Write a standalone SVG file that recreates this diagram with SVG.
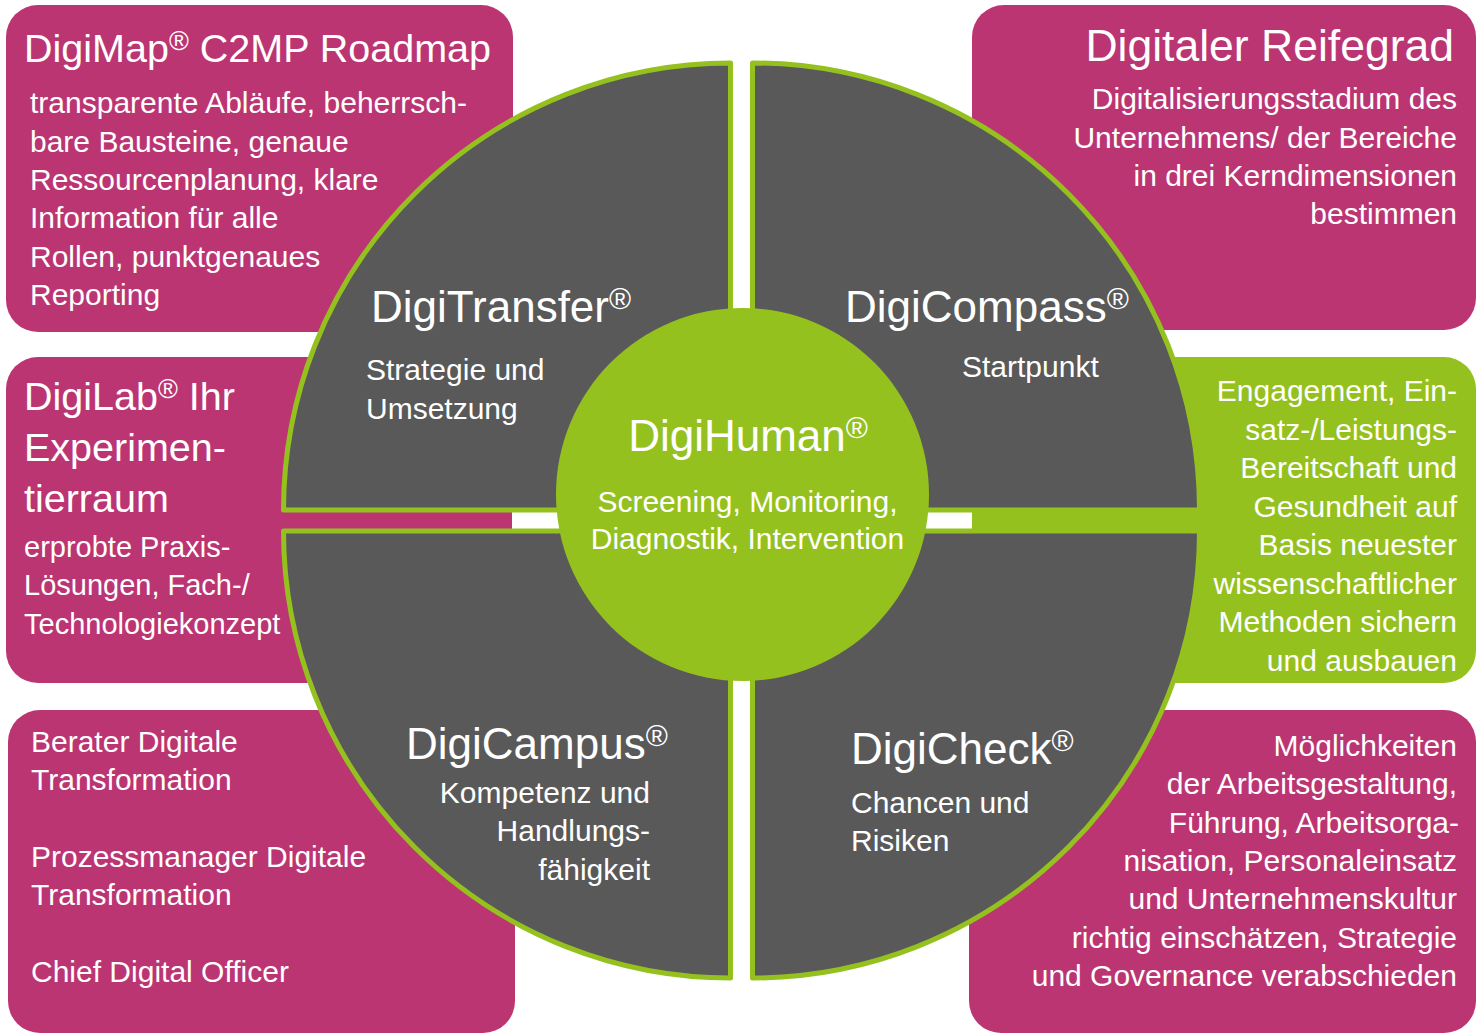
<svg xmlns="http://www.w3.org/2000/svg" width="1476" height="1035" viewBox="0 0 1476 1035">
<style>
text { font-family: "Liberation Sans", Arial, sans-serif; fill: #ffffff; }
.box { fill: #BB3572; }
.gbox { fill: #95C11F; }
.quad { fill: #595959; stroke: #95C11F; stroke-width: 5; stroke-linejoin: round; }
.hub { fill: #95C11F; }
.t44 { font-size: 44px; }
.t40 { font-size: 39.5px; }
.b30 { font-size: 30px; }
.b29 { font-size: 29px; }
.r { text-anchor: end; }
.m { text-anchor: middle; }
.reg { font-size: 30px; }
.regs { font-size: 27px; }
</style>
<rect x="0" y="0" width="1476" height="1035" fill="#ffffff"/>

<g id="box-digimap">
  <rect class="box" x="6" y="5" width="507" height="327" rx="32"/>
  <text class="t40" x="24" y="62">DigiMap<tspan class="regs" baseline-shift="12">®</tspan> C2MP Roadmap</text>
  <text class="b30" x="30" y="113">transparente Abläufe, beherrsch-</text>
  <text class="b30" x="30" y="151.5">bare Bausteine, genaue</text>
  <text class="b30" x="30" y="190">Ressourcenplanung, klare</text>
  <text class="b30" x="30" y="228">Information für alle</text>
  <text class="b30" x="30" y="266.5">Rollen, punktgenaues</text>
  <text class="b30" x="30" y="305">Reporting</text>
</g>

<g id="box-reifegrad">
  <rect class="box" x="972" y="5" width="504" height="325" rx="32"/>
  <text class="r" font-size="44.5" x="1454" y="61">Digitaler Reifegrad</text>
  <text class="b30 r" x="1457" y="109">Digitalisierungsstadium des</text>
  <text class="b30 r" x="1457" y="148">Unternehmens/ der Bereiche</text>
  <text class="b30 r" x="1457" y="186">in drei Kerndimensionen</text>
  <text class="b30 r" x="1457" y="224">bestimmen</text>
</g>

<g id="box-digilab">
  <rect class="box" x="6" y="357" width="506" height="326" rx="32"/>
  <text class="t40" x="24" y="410">DigiLab<tspan class="regs" baseline-shift="12">®</tspan> Ihr</text>
  <text class="t40" x="24" y="461">Experimen-</text>
  <text class="t40" x="24" y="512">tierraum</text>
  <text class="b29" x="24" y="557">erprobte Praxis-</text>
  <text class="b29" x="24" y="595">Lösungen, Fach-/</text>
  <text class="b29" x="24" y="634">Technologiekonzept</text>
</g>

<g id="box-engagement">
  <rect class="gbox" x="972" y="357" width="504" height="326" rx="32"/>
  <text class="b30 r" x="1457" y="401">Engagement, Ein-</text>
  <text class="b30 r" x="1457" y="440">satz-/Leistungs-</text>
  <text class="b30 r" x="1457" y="478">Bereitschaft und</text>
  <text class="b30 r" x="1457" y="517">Gesundheit auf</text>
  <text class="b30 r" x="1457" y="555">Basis neuester</text>
  <text class="b30 r" x="1457" y="594">wissenschaftlicher</text>
  <text class="b30 r" x="1457" y="632">Methoden sichern</text>
  <text class="b30 r" x="1457" y="671">und ausbauen</text>
</g>

<g id="box-berater">
  <rect class="box" x="8" y="710" width="507" height="323" rx="32"/>
  <text class="b30" x="31" y="752">Berater Digitale</text>
  <text class="b30" x="31" y="790">Transformation</text>
  <text class="b30" x="31" y="867">Prozessmanager Digitale</text>
  <text class="b30" x="31" y="905">Transformation</text>
  <text class="b30" x="31" y="982">Chief Digital Officer</text>
</g>

<g id="box-moeglichkeiten">
  <rect class="box" x="969" y="710" width="507" height="323" rx="32"/>
  <text class="b30 r" x="1457" y="756">Möglichkeiten</text>
  <text class="b30 r" x="1457" y="794">der Arbeitsgestaltung,</text>
  <text class="b30 r" x="1459" y="833">Führung, Arbeitsorga-</text>
  <text class="b30 r" x="1457" y="871">nisation, Personaleinsatz</text>
  <text class="b30 r" x="1457" y="909">und Unternehmenskultur</text>
  <text class="b30 r" x="1457" y="948">richtig einschätzen, Strategie</text>
  <text class="b30 r" x="1457" y="986">und Governance verabschieden</text>
</g>

<g id="q-digitransfer">
  <path class="quad" d="M730.5,510 L283.5,510 A447,447 0 0 1 730.5,63 Z"/>
  <text class="t44" x="371" y="322">DigiTransfer<tspan class="reg" baseline-shift="13">®</tspan></text>
  <text class="b30" x="366" y="380">Strategie und</text>
  <text class="b30" x="366" y="419">Umsetzung</text>
</g>

<g id="q-digicompass">
  <path class="quad" d="M752.5,510 L752.5,63 A447,447 0 0 1 1199.5,510 Z"/>
  <text class="t44" x="845" y="322">DigiCompass<tspan class="reg" baseline-shift="13">®</tspan></text>
  <text class="b30" x="962" y="377">Startpunkt</text>
</g>

<g id="q-digicampus">
  <path class="quad" d="M730.5,531 L730.5,978 A447,447 0 0 1 283.5,531 Z"/>
  <text class="t44" x="406" y="759">DigiCampus<tspan class="reg" baseline-shift="13">®</tspan></text>
  <text class="b30 r" x="650" y="803">Kompetenz und</text>
  <text class="b30 r" x="650" y="841">Handlungs-</text>
  <text class="b30 r" x="650" y="880">fähigkeit</text>
</g>

<g id="q-digicheck">
  <path class="quad" d="M752.5,531 L1199.5,531 A447,447 0 0 1 752.5,978 Z"/>
  <text class="t44" x="851" y="764">DigiCheck<tspan class="reg" baseline-shift="13">®</tspan></text>
  <text class="b30" x="851" y="813">Chancen und</text>
  <text class="b30" x="851" y="851">Risiken</text>
</g>

<g id="c-digihuman">
  <circle class="hub" cx="742.5" cy="494.5" r="186.5"/>
  <text class="t44 m" x="748" y="451">DigiHuman<tspan class="reg" baseline-shift="13">®</tspan></text>
  <text class="b30 m" x="747.5" y="512">Screening, Monitoring,</text>
  <text class="b30 m" x="747.5" y="549">Diagnostik, Intervention</text>
</g>
</svg>
